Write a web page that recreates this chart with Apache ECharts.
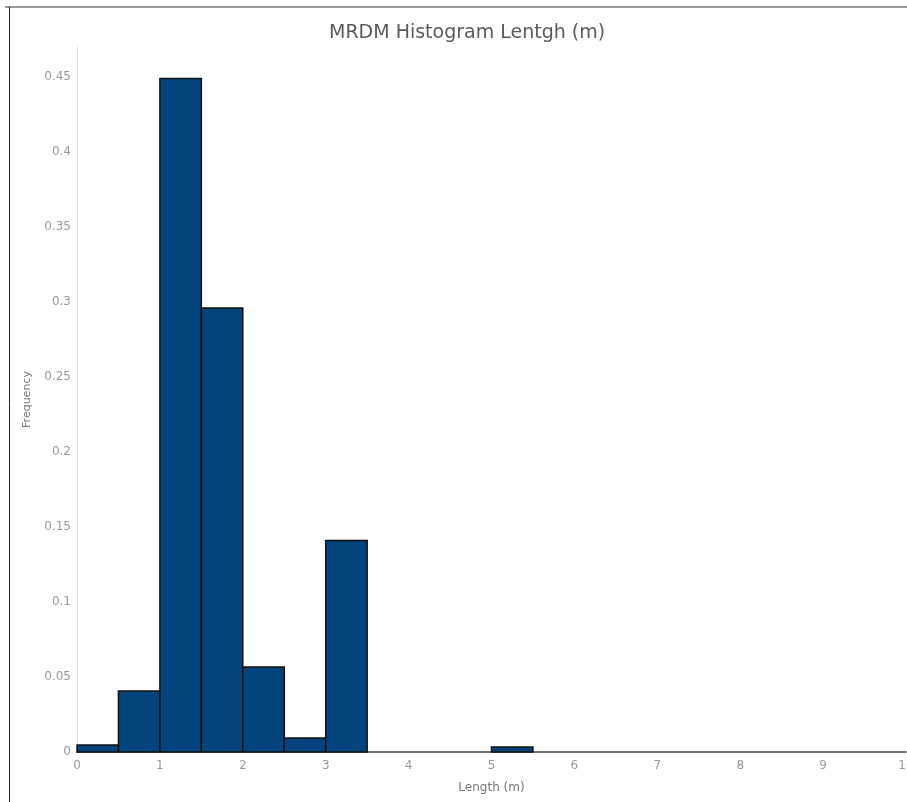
<!DOCTYPE html>
<html>
<head>
<meta charset="utf-8">
<script src="https://cdn.jsdelivr.net/npm/echarts@6/dist/echarts.min.js"></script>
<style>
  html, body { margin: 0; padding: 0; background: #fff; }
  #chart { width: 907px; height: 802px; }
</style>
</head>
<body>
<div id="chart"></div>
<script>
// bin edges (m), width 0.5
var binStart = [0, 0.5, 1, 1.5, 2, 2.5, 3, 3.5, 4, 4.5, 5, 5.5, 6, 6.5, 7, 7.5, 8, 8.5, 9, 9.5];
var binEnd   = [0.5, 1, 1.5, 2, 2.5, 3, 3.5, 4, 4.5, 5, 5.5, 6, 6.5, 7, 7.5, 8, 8.5, 9, 9.5, 10];
var frequency = [0.0047, 0.0407, 0.449, 0.296, 0.0567, 0.0093, 0.141, 0, 0, 0, 0.0033, 0, 0, 0, 0, 0, 0, 0, 0, 0];

var chart = echarts.init(document.getElementById('chart'));

var histData = [];
for (var i = 0; i < frequency.length; i++) {
    histData.push([binStart[i], binEnd[i], frequency[i]]);
}

var option = {
    backgroundColor: '#fff',
    animation: false,
    title: {
        text: 'MRDM Histogram Lentgh (m)',
        left: 324,
        top: 19,
        textStyle: {
            fontFamily: 'DejaVu Sans',
            fontSize: 19,
            fontWeight: 'normal',
            color: '#5a5a5a'
        }
    },
    grid: { left: 77, right: 1, top: 47, bottom: 50, outerBoundsMode: 'none', containLabel: false },
    xAxis: {
        type: 'value',
        min: 0,
        max: 10,
        interval: 1,
        name: 'Length (m)',
        nameLocation: 'middle',
        nameGap: 30,
        nameTextStyle: { fontFamily: 'DejaVu Sans', fontSize: 12, color: '#777' },
        axisLine: { show: true, lineStyle: { color: '#444', width: 1.5 } },
        axisTick: { show: false },
        splitLine: { show: false },
        axisLabel: { fontFamily: 'DejaVu Sans', fontSize: 12, color: '#999', margin: 8, hideOverlap: false }
    },
    yAxis: {
        type: 'value',
        min: 0,
        max: 0.47,
        interval: 0.05,
        name: 'Frequency',
        nameLocation: 'middle',
        nameGap: 44,
        nameTextStyle: { fontFamily: 'DejaVu Sans', fontSize: 11, color: '#777' },
        axisLine: { show: true, lineStyle: { color: '#ddd', width: 1 } },
        axisTick: { show: false },
        splitLine: { show: false },
        axisLabel: {
            fontFamily: 'DejaVu Sans', fontSize: 12, color: '#999', margin: 6,
            showMaxLabel: false,
            formatter: function (v) { return String(+v.toFixed(2)); }
        }
    },
    series: [{
        type: 'custom',
        data: histData,
        renderItem: function (params, api) {
            var h = api.value(2);
            if (!h) return null;
            var p0 = api.coord([api.value(0), h]);
            var p1 = api.coord([api.value(1), 0]);
            return {
                type: 'rect',
                shape: { x: p0[0], y: p0[1], width: p1[0] - p0[0], height: p1[1] - p0[1] },
                style: { fill: '#02447b', stroke: '#111', lineWidth: 1.5 }
            };
        }
    }],
    graphic: [
        { type: 'line', shape: { x1: 5, y1: 7, x2: 907, y2: 7 }, style: { stroke: '#777', lineWidth: 1.5 } },
        { type: 'line', shape: { x1: 9.5, y1: 7, x2: 9.5, y2: 802 }, style: { stroke: '#222', lineWidth: 1 } }
    ]
};

chart.setOption(option);
</script>
</body>
</html>
